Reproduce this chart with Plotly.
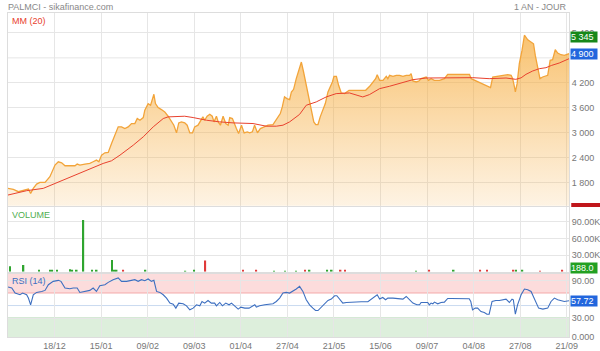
import plotly.graph_objects as go

# ---------------- data ----------------
tick_labels = ["18/12", "15/01", "09/02", "09/03", "01/04", "27/04",
               "21/05", "15/06", "09/07", "04/08", "27/08", "21/09"]

price_idx = [0, 2.4, 4.7, 6.9, 9.2, 10.2, 11.4, 12.9, 14.4, 16.7, 18.9, 21.2, 22.7, 24.2, 25.7,
             27.9, 30.2, 31.2, 32.4, 34.7, 36.9, 38.4, 39.9, 41.0, 42.2, 43.7, 45.2, 46.7, 48.2,
             49.7, 51.2, 52.7, 54.2, 55.7, 57.2, 58.3, 59.5, 61.0, 61.7, 63.2, 64.3, 65.0, 65.8,
             66.5, 67.7, 69.2, 70.7, 72.2, 73.7, 74.8, 76.0, 77.0, 78.2, 79.7, 80.8, 82.0, 83.2,
             84.2, 85.7, 87.2, 87.9, 88.7, 89.8, 91.0, 92.1, 92.9, 94.0, 94.8, 95.8, 97.0, 98.2,
             99.3, 100.0, 101.2, 102.2, 103.0, 104.0, 105.3, 106.5, 107.9, 109.0, 110.2, 111.2,
             112.5, 113.8, 115.3, 117.3, 119.5, 120.7, 121.8, 122.8, 123.7, 124.7, 125.8, 127.0,
             127.8, 128.8, 130.0, 131.2, 132.3, 133.3, 134.5, 135.7, 136.8, 137.9, 138.8, 139.8,
             140.8, 142.0, 143.1, 144.3, 145.4, 146.3, 147.0, 148.1, 149.1, 150.3, 151.8, 153.8,
             156.3, 158.6, 161.3, 163.1, 164.6, 165.8, 166.5, 167.6, 169.1, 170.6, 171.3, 172.1,
             173.6, 175.1, 176.6, 178.1, 179.6, 181.1, 181.8, 182.6, 184.1, 185.3, 186.3, 187.8,
             188.6, 189.6, 190.8, 192.3, 194.6, 196.8, 198.3, 199.8, 202.1, 205.1, 208.1, 208.9,
             210.4, 211.9, 213.4, 214.9, 216.4, 217.6, 218.6, 220.1, 221.6, 223.9, 225.4, 226.9,
             227.6, 228.4, 228.8, 229.6, 230.6, 231.8, 232.9, 234.4, 235.9, 237.0, 237.8, 238.9,
             239.9, 241.1, 242.6, 243.4, 244.5, 245.6, 246.8, 247.9, 249.4, 250.9, 252.1, 253]
price_val = [1660, 1636, 1580, 1620, 1644, 1540, 1660, 1764, 1804, 1804, 1940, 2220, 2300, 2276, 2204,
             2204, 2204, 2244, 2220, 2244, 2260, 2300, 2340, 2300, 2460, 2516, 2524, 2740, 2940,
             3140, 3140, 3100, 3140, 3220, 3220, 3340, 3300, 3364, 3540, 3700, 3660, 3780, 3924,
             3700, 3604, 3556, 3500, 3396, 3260, 3180, 2996, 3236, 3260, 3236, 3180, 2996, 2996,
             3140, 3180, 3300, 3380, 3300, 3396, 3444, 3396, 3260, 3396, 3260, 3180, 3396, 3220,
             3180, 3364, 3340, 3180, 3100, 2980, 3180, 2996, 3020, 2996, 3020, 3180,
             2996, 3100, 3140, 3180, 3196, 3300, 3380, 3460, 3620, 3860, 3820, 3796,
             3980, 4044, 4300, 4500, 4700, 4460, 4140, 3820, 3500, 3260, 3196, 3196,
             3380, 3540, 3700, 3980, 4100, 4220, 4356, 4356, 4140, 3956, 3940, 4020,
             4020, 4020, 4020, 4116, 4220, 4300, 4396, 4260, 4260, 4356, 4300, 4380,
             4356, 4380, 4380, 4356, 4380, 4380, 4420, 4244, 4220, 4244, 4300, 4316,
             4340, 4260, 4300, 4260, 4260, 4300, 4404, 4404, 4404, 4404, 4404, 4300,
             4260, 4220, 4180, 4140, 4100, 4084, 4340, 4356, 4364, 4380, 4396, 4380,
             4300, 4100, 3980, 4180, 4660, 4980, 5345, 5236, 5180, 5140, 4860, 4540,
             4300, 4340, 4356, 4380, 4740, 4756, 4996, 4916, 4876, 4860, 4884, 4900]

ma_idx = [0, 8.4, 15.9, 21.2, 26.4, 32.4, 36.9, 42.9, 46.7, 50.5, 56.5, 61, 65.5, 70, 72.2, 76,
          79.7, 83.5, 89.5, 95.5, 101.5, 110.5, 116.5, 121, 124, 127, 131.5, 134.5, 139, 143.5,
          148, 154, 157.8, 160, 163, 167.6, 172, 176.6, 182.6, 188.6, 196, 203.6, 209.6, 217,
          224.6, 229, 231.4, 233.6, 236.6, 239.6, 242.6, 245.2, 248.6, 253]
ma_val = [1500, 1604, 1660, 1780, 1900, 2036, 2140, 2260, 2324, 2460, 2700, 2900, 3140, 3340, 3380, 3380,
          3396, 3364, 3300, 3260, 3236, 3220, 3156, 3156, 3180, 3260, 3440, 3660, 3740, 3860,
          3940, 3956, 3900, 3860, 3916, 4060, 4116, 4180, 4276, 4316, 4316, 4324, 4324, 4300,
          4316, 4284, 4320, 4404, 4484, 4540, 4564, 4620, 4676, 4780]

vol_idx = [1, 7, 14, 19, 20, 22, 28, 29, 31, 34, 38, 40, 47, 48, 49, 52, 62, 80, 84, 89,
           106, 112, 120, 125, 130, 134, 136, 144, 146, 150, 152, 184, 190, 201, 213, 216,
           228, 229, 232, 240, 250]
vol_val = [10000, 12000, 1900, 1900, 3000, 1900, 4300, 3000, 3000, 93000, 1900, 1900, 21000, 3000,
           1900, 3000, 1900, 1500, 1900, 20000, 2500, 2000, 1500, 1500, 1500, 2500, 2500, 2000,
           2000, 1900, 1900, 1500, 2000, 2000, 1900, 1900, 3000, 3000, 2500, 1500, 2000]
vol_up = [1, 1, 1, 1, 1, 1, 1, 1, 1, 1, 1, 1, 1, 1, 1, 0, 1, 1, 1, 0,
          0, 0, 1, 1, 1, 0, 1, 1, 1, 0, 0, 1, 0, 1, 0, 0, 0, 1, 1, 0, 0]

rsi_idx = [0, 1.7, 3.2, 5.4, 6.6, 8.4, 9.2, 10.2, 11.4, 12.9, 15.2, 16.7, 18.2, 20.4, 22.7, 23.9,
           25.7, 27.9, 29.4, 31.2, 32.4, 34.7, 36.9, 38.4, 39.9, 41.4, 43.7, 45.2, 47.4, 49.7,
           51.2, 53.5, 55.7, 57.2, 58.7, 60.2, 61.7, 63.2, 64.7, 65.8, 67, 68.5, 70, 71.5, 73,
           74.5, 75.7, 77, 79, 80.5, 82, 83.5, 85, 86.5, 87.5, 88.7, 90.2, 91.7, 93.2, 94, 95.5,
           96.7, 98.2, 99.7, 100.8, 102.3, 103.8, 105, 106.8, 108.7, 110.2, 111.3, 112, 113.5,
           115.8, 118, 119.5, 121, 122.5, 124, 125.5, 127, 128.5, 130, 131.5, 133, 134.5, 136,
           137.5, 138.7, 139.8, 141.3, 142.8, 144.3, 145.8, 147.3, 148.3, 149.5, 151, 152.6,
           154.8, 157, 159.3, 162.3, 163.8, 165.3, 166.5, 167.6, 169, 170.3, 171.3, 173.6, 175.8,
           178.1, 179.6, 181.1, 182.6, 184.4, 185.6, 186.3, 187.8, 189.3, 190, 190.8, 191.6,
           192.3, 193.8, 195.3, 196.8, 198.3, 199.8, 202, 205, 208, 208.7, 209.5, 210.7, 211.8,
           213.3, 214.8, 216, 217, 218.3, 220, 221.6, 223.1, 224.6, 226.1, 227.3, 227.9, 228.8,
           229.8, 231.4, 232.9, 234.4, 235.9, 237.4, 239.3, 241.2, 243.4, 244.9, 246.4, 247.9,
           249.4, 250.9, 253]
rsi_val = [79.5, 77.9, 69.9, 67.2, 69.9, 67.2, 61.9, 51.2, 67.2, 70.9, 72.5, 74.1, 83.2, 88.5, 90.1, 88.5,
           77.9, 76.8, 77.9, 77.9, 70.9, 72.5, 74.1, 77.9, 72.5, 81.6, 83.2, 86.9, 91.2, 93.9,
           88.5, 88.5, 89.6, 91.2, 88.5, 91.2, 89.6, 92.3, 88.5, 90.1, 72.5, 70.9, 67.2, 61.9, 53.9,
           52.3, 45.9, 53.9, 52.8, 49.6, 43.2, 45.9, 51.2, 49.6, 56.5, 53.9, 58.1, 53.9, 53.9, 49.6, 54.9,
           49.6, 53.9, 51.2, 53.9, 48.5, 44.3, 47.5, 45.9, 45.9, 48.5, 51.2, 47.5, 49.6,
           51.2, 52.8, 52.8, 56.5, 61.9, 69.9, 70.9, 69.9, 72.5, 76.3, 80.5, 72.5, 59.2, 51.2,
           45.9, 42.1, 42.1, 47.5, 51.2, 58.1, 60.3, 65.6, 65.6, 60.3, 53.9, 54.9,
           55.5, 55.5, 56.0, 56.0, 60.3, 64.5, 67.2, 60.3, 62.9, 59.2, 61.9, 61.9, 61.3,
           60.3, 64.5, 59.2, 53.9, 51.2, 51.2, 54.9, 55.5, 54.9, 51.2, 53.9, 52.8,
           55.5, 52.8, 54.9, 55.5, 61.3, 61.3, 61.3, 61.3, 60.8, 56.5, 43.2, 45.9, 45.9,
           40.5, 38.9, 36.3, 36.3, 56.5, 58.1, 58.1, 59.2, 60.3, 54.9, 60.3, 59.2, 36.3,
           51.2, 67.2, 76.3, 75.2, 72.5, 61.9, 45.9, 44.3, 45.9, 56.5, 61.9, 59.2,
           58.1, 56.5, 57.72]

price_ticks = [1800, 2400, 3000, 3600, 4200, 5400]
vol_ticks = [30000, 60000, 90000]
rsi_ticks = [0, 30, 90]

# ---------------- figure ----------------
FONT = "Arial, Liberation Sans, sans-serif"
GRID = "#e6e6e6"
LBL = "#777777"
tick_pos = [21 * (i + 1) for i in range(len(tick_labels))]
XR = [0, 253]

fig = go.Figure()

fig.add_trace(go.Scatter(
    x=price_idx, y=price_val, mode="lines", line=dict(color="#f2a43a", width=1.3),
    fill="tozeroy",
    fillgradient=dict(type="vertical",
                      colorscale=[[0, "rgba(246,175,70,0.15)"], [1, "rgba(246,170,55,0.72)"]],
                      start=1243, stop=5400),
    xaxis="x", yaxis="y", hoverinfo="skip"))
fig.add_trace(go.Scatter(
    x=ma_idx, y=ma_val, mode="lines", line=dict(color="#e8412e", width=1),
    xaxis="x", yaxis="y", hoverinfo="skip"))

fig.add_trace(go.Bar(
    x=vol_idx, y=vol_val, width=0.7,
    marker=dict(color=["#2fa52f" if u else "#e03a3a" for u in vol_up], line=dict(width=0)),
    xaxis="x2", yaxis="y2", hoverinfo="skip"))

fig.add_trace(go.Scatter(
    x=rsi_idx, y=rsi_val, mode="lines", line=dict(color="#3d6fc0", width=1.1),
    xaxis="x3", yaxis="y3", hoverinfo="skip"))

xcommon = dict(range=XR, tickvals=tick_pos, ticktext=tick_labels, showgrid=True,
               gridcolor=GRID, gridwidth=1, zeroline=False, showline=True,
               linecolor="#dddddd", mirror=True, ticks="", automargin=False,
               tickfont=dict(family=FONT, size=9, color=LBL))
ycommon = dict(side="right", showgrid=True, gridcolor=GRID, zeroline=False, showline=True,
               linecolor="#dddddd", mirror=True, ticks="", automargin=False,
               tickfont=dict(family=FONT, size=9, color=LBL))

H = 351.0
def pd(y_px):
    return (H - 14 - y_px) / (H - 27)

fig.update_layout(
    width=600, height=351,
    margin=dict(l=8, r=31, t=13, b=14, autoexpand=False),
    paper_bgcolor="white", plot_bgcolor="white",
    showlegend=False,
    xaxis=dict(**xcommon, anchor="y", showticklabels=False, domain=[0, 1]),
    xaxis2=dict(**xcommon, anchor="y2", showticklabels=False, matches="x", domain=[0, 1]),
    xaxis3=dict(**xcommon, anchor="y3", showticklabels=True, matches="x", domain=[0, 1]),
    yaxis=dict(**ycommon, anchor="x", domain=[pd(205.7), 1], range=[1243, 5880],
               tickvals=price_ticks, ticktext=[f"{v:,}".replace(",", " ") for v in price_ticks]),
    yaxis2=dict(**ycommon, anchor="x2", domain=[pd(271.7), pd(206.7)], range=[0, 117000],
                tickvals=vol_ticks, ticktext=[f"{v/1000:.2f}K" for v in vol_ticks]),
    yaxis3=dict(**ycommon, anchor="x3", domain=[0, pd(273.5)], range=[0, 101],
                tickvals=rsi_ticks, ticktext=["0.000", "30.00", "90.00"]),
    font=dict(family=FONT),
)
# gridline at 4800 kept (label hidden behind last-price box, as in reference)
fig.add_shape(type="line", xref="x domain", yref="y", x0=0, x1=1, y0=4800, y1=4800,
              line=dict(color=GRID, width=1), layer="below")

# RSI bands
fig.add_shape(type="rect", xref="x3 domain", yref="y3", x0=0, x1=1, y0=70, y1=101,
              fillcolor="#fcdcdc", line=dict(width=0), layer="below")
fig.add_shape(type="rect", xref="x3 domain", yref="y3", x0=0, x1=1, y0=0, y1=30,
              fillcolor="#ddefdc", line=dict(width=0), layer="below")
fig.add_shape(type="line", xref="x3 domain", yref="y3", x0=0, x1=1, y0=70, y1=70,
              line=dict(color="#f3a9a9", width=1), layer="below")
fig.add_shape(type="line", xref="x3 domain", yref="y3", x0=0, x1=1, y0=30, y1=30,
              line=dict(color="#8fc48f", width=1), layer="below")
fig.add_shape(type="line", xref="x3 domain", yref="y3", x0=0, x1=1, y0=50, y1=50,
              line=dict(color="#c9daf0", width=1), layer="below")

# min marker (clipped red box at bottom of price panel)
fig.add_shape(type="rect", xref="paper", yref="paper", x0=1.004, x1=1.06,
              y0=pd(207), y1=pd(203), fillcolor="#c0161b", line=dict(width=0))

# panel titles
fig.add_annotation(text="PALMCI - sikafinance.com", xref="paper", yref="paper", x=0, y=1,
                   xanchor="left", yanchor="bottom", xshift=-2, yshift=-1, showarrow=False,
                   font=dict(family=FONT, size=9, color="#888888"))
fig.add_annotation(text="1 AN - JOUR", xref="paper", yref="paper", x=1, y=1,
                   xanchor="right", yanchor="bottom", xshift=0, yshift=-1, showarrow=False,
                   font=dict(family=FONT, size=9, color="#888888"))
fig.add_annotation(text="MM (20)", xref="paper", yref="paper", x=0, y=1,
                   xanchor="left", yanchor="top", xshift=2, yshift=-1, showarrow=False,
                   font=dict(family=FONT, size=9, color="#e8412e"))
fig.add_annotation(text="VOLUME", xref="paper", yref="paper", x=0, y=pd(206.7),
                   xanchor="left", yanchor="top", xshift=2, yshift=-1, showarrow=False,
                   font=dict(family=FONT, size=9, color="#4fae4f"))
fig.add_annotation(text="RSI (14)", xref="paper", yref="paper", x=0, y=pd(273.5),
                   xanchor="left", yanchor="top", xshift=2, yshift=0, showarrow=False,
                   font=dict(family=FONT, size=9, color="#3d6fc0"))

# value boxes on right axis
def box(text, yref, yv, color, ys=0):
    fig.add_annotation(text=text, xref="paper", yref=yref, x=1, y=yv, xanchor="left",
                       yanchor="middle", xshift=1, yshift=ys, showarrow=False, bgcolor=color,
                       width=26, height=10, align="left", borderpad=0,
                       font=dict(family=FONT, size=9, color="white"))

box("5 345", "y", 5345, "#17881a", -2)
box("4 900", "y", 4900, "#2266dd")
box("188.0", "y2", 188, "#22a022", 4)
box("57.72", "y3", 57.72, "#2266dd")

fig.write_html("out.html")
